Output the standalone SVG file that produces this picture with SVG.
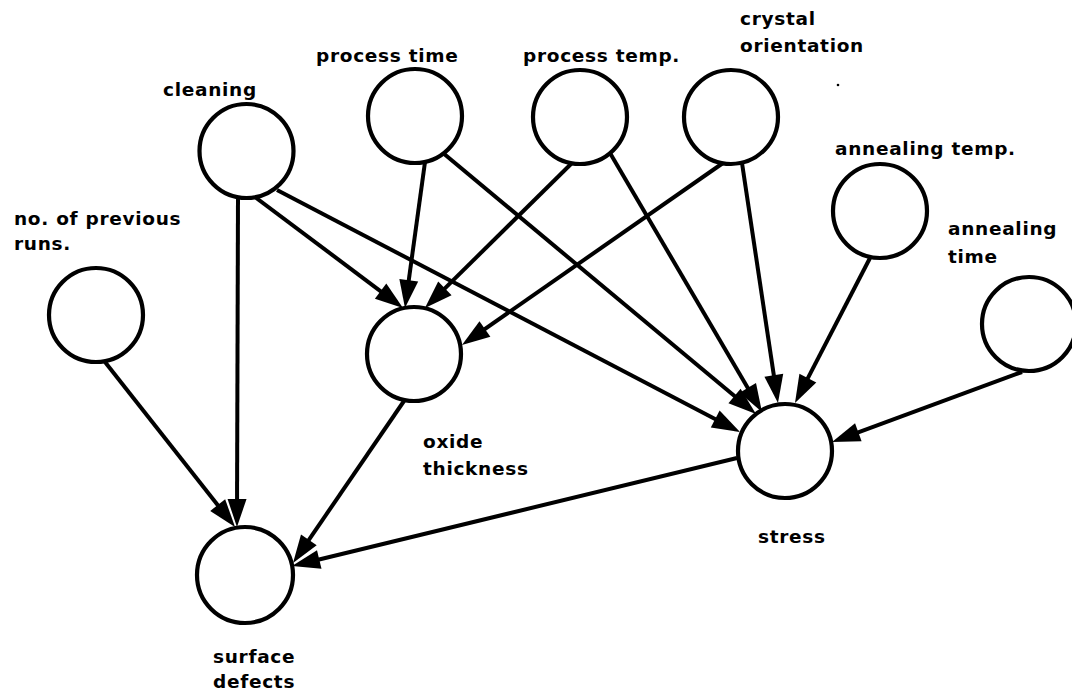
<svg xmlns="http://www.w3.org/2000/svg" width="1072" height="696" viewBox="0 0 1072 696">
<defs>
<marker id="ah" markerUnits="userSpaceOnUse" markerWidth="28" markerHeight="19" refX="16" refY="9.5" orient="auto" overflow="visible">
<path d="M0,0 L28,9.5 L0,19 z" fill="#000"/>
</marker>
<style>
.n{fill:#fff;stroke:#000;stroke-width:4.2}
.e{stroke:#000;stroke-width:4;fill:none;marker-end:url(#ah)}
text{font-family:"DejaVu Sans","Liberation Sans",sans-serif;font-weight:bold;font-size:18.5px;letter-spacing:0.7px;fill:#000}
</style>
</defs>
<rect width="1072" height="696" fill="#fff"/>
<g id="connectors">
<line class="e" x1="105" y1="362" x2="227.6" y2="517.6"/>
<line class="e" x1="238" y1="196" x2="237" y2="515"/>
<line class="e" x1="255" y1="197" x2="393.4" y2="300.8"/>
<line class="e" x1="277" y1="190" x2="729.4" y2="426.4"/>
<line class="e" x1="425" y1="162" x2="406.6" y2="296.1"/>
<line class="e" x1="443" y1="153" x2="746.8" y2="406.3"/>
<line class="e" x1="572" y1="163" x2="433.5" y2="299.6"/>
<line class="e" x1="610" y1="153" x2="755.9" y2="401.7"/>
<line class="e" x1="723" y1="163" x2="471.8" y2="338.1"/>
<line class="e" x1="742" y1="163" x2="776.2" y2="391.1"/>
<line class="e" x1="870" y1="258" x2="800.5" y2="392.3"/>
<line class="e" x1="1022" y1="372" x2="843.3" y2="437.8"/>
<line class="e" x1="404" y1="401" x2="299.8" y2="553.1"/>
<line class="e" x1="737" y1="458" x2="303.7" y2="563.2"/>
</g>
<g id="cleaning"><circle class="n" cx="246.5" cy="151" r="47"/><text x="163" y="96">cleaning</text></g>
<g id="process-time"><circle class="n" cx="415" cy="116" r="47"/><text x="316" y="62">process time</text></g>
<g id="process-temp"><circle class="n" cx="580" cy="117" r="47"/><text x="523" y="62">process temp.</text></g>
<g id="crystal-orientation"><circle class="n" cx="731" cy="117" r="47"/><text x="740" y="25">crystal</text><text x="740" y="52">orientation</text></g>
<g id="annealing-temp"><circle class="n" cx="880" cy="211" r="47"/><text x="835" y="155">annealing temp.</text></g>
<g id="annealing-time"><circle class="n" cx="1029" cy="324" r="47"/><text x="948" y="235">annealing</text><text x="948" y="263">time</text></g>
<g id="previous-runs"><circle class="n" cx="96" cy="315" r="47"/><text x="14" y="225">no. of previous</text><text x="14" y="250">runs.</text></g>
<g id="oxide-thickness"><circle class="n" cx="414" cy="354" r="47"/><text x="423" y="448">oxide</text><text x="423" y="475">thickness</text></g>
<g id="stress"><circle class="n" cx="785" cy="451" r="47"/><text x="758" y="543">stress</text></g>
<g id="surface-defects"><circle class="n" cx="245" cy="575" r="48"/><text x="213" y="663">surface</text><text x="213" y="688">defects</text></g>
<circle cx="838" cy="85" r="1.3" fill="#000"/>
</svg>
